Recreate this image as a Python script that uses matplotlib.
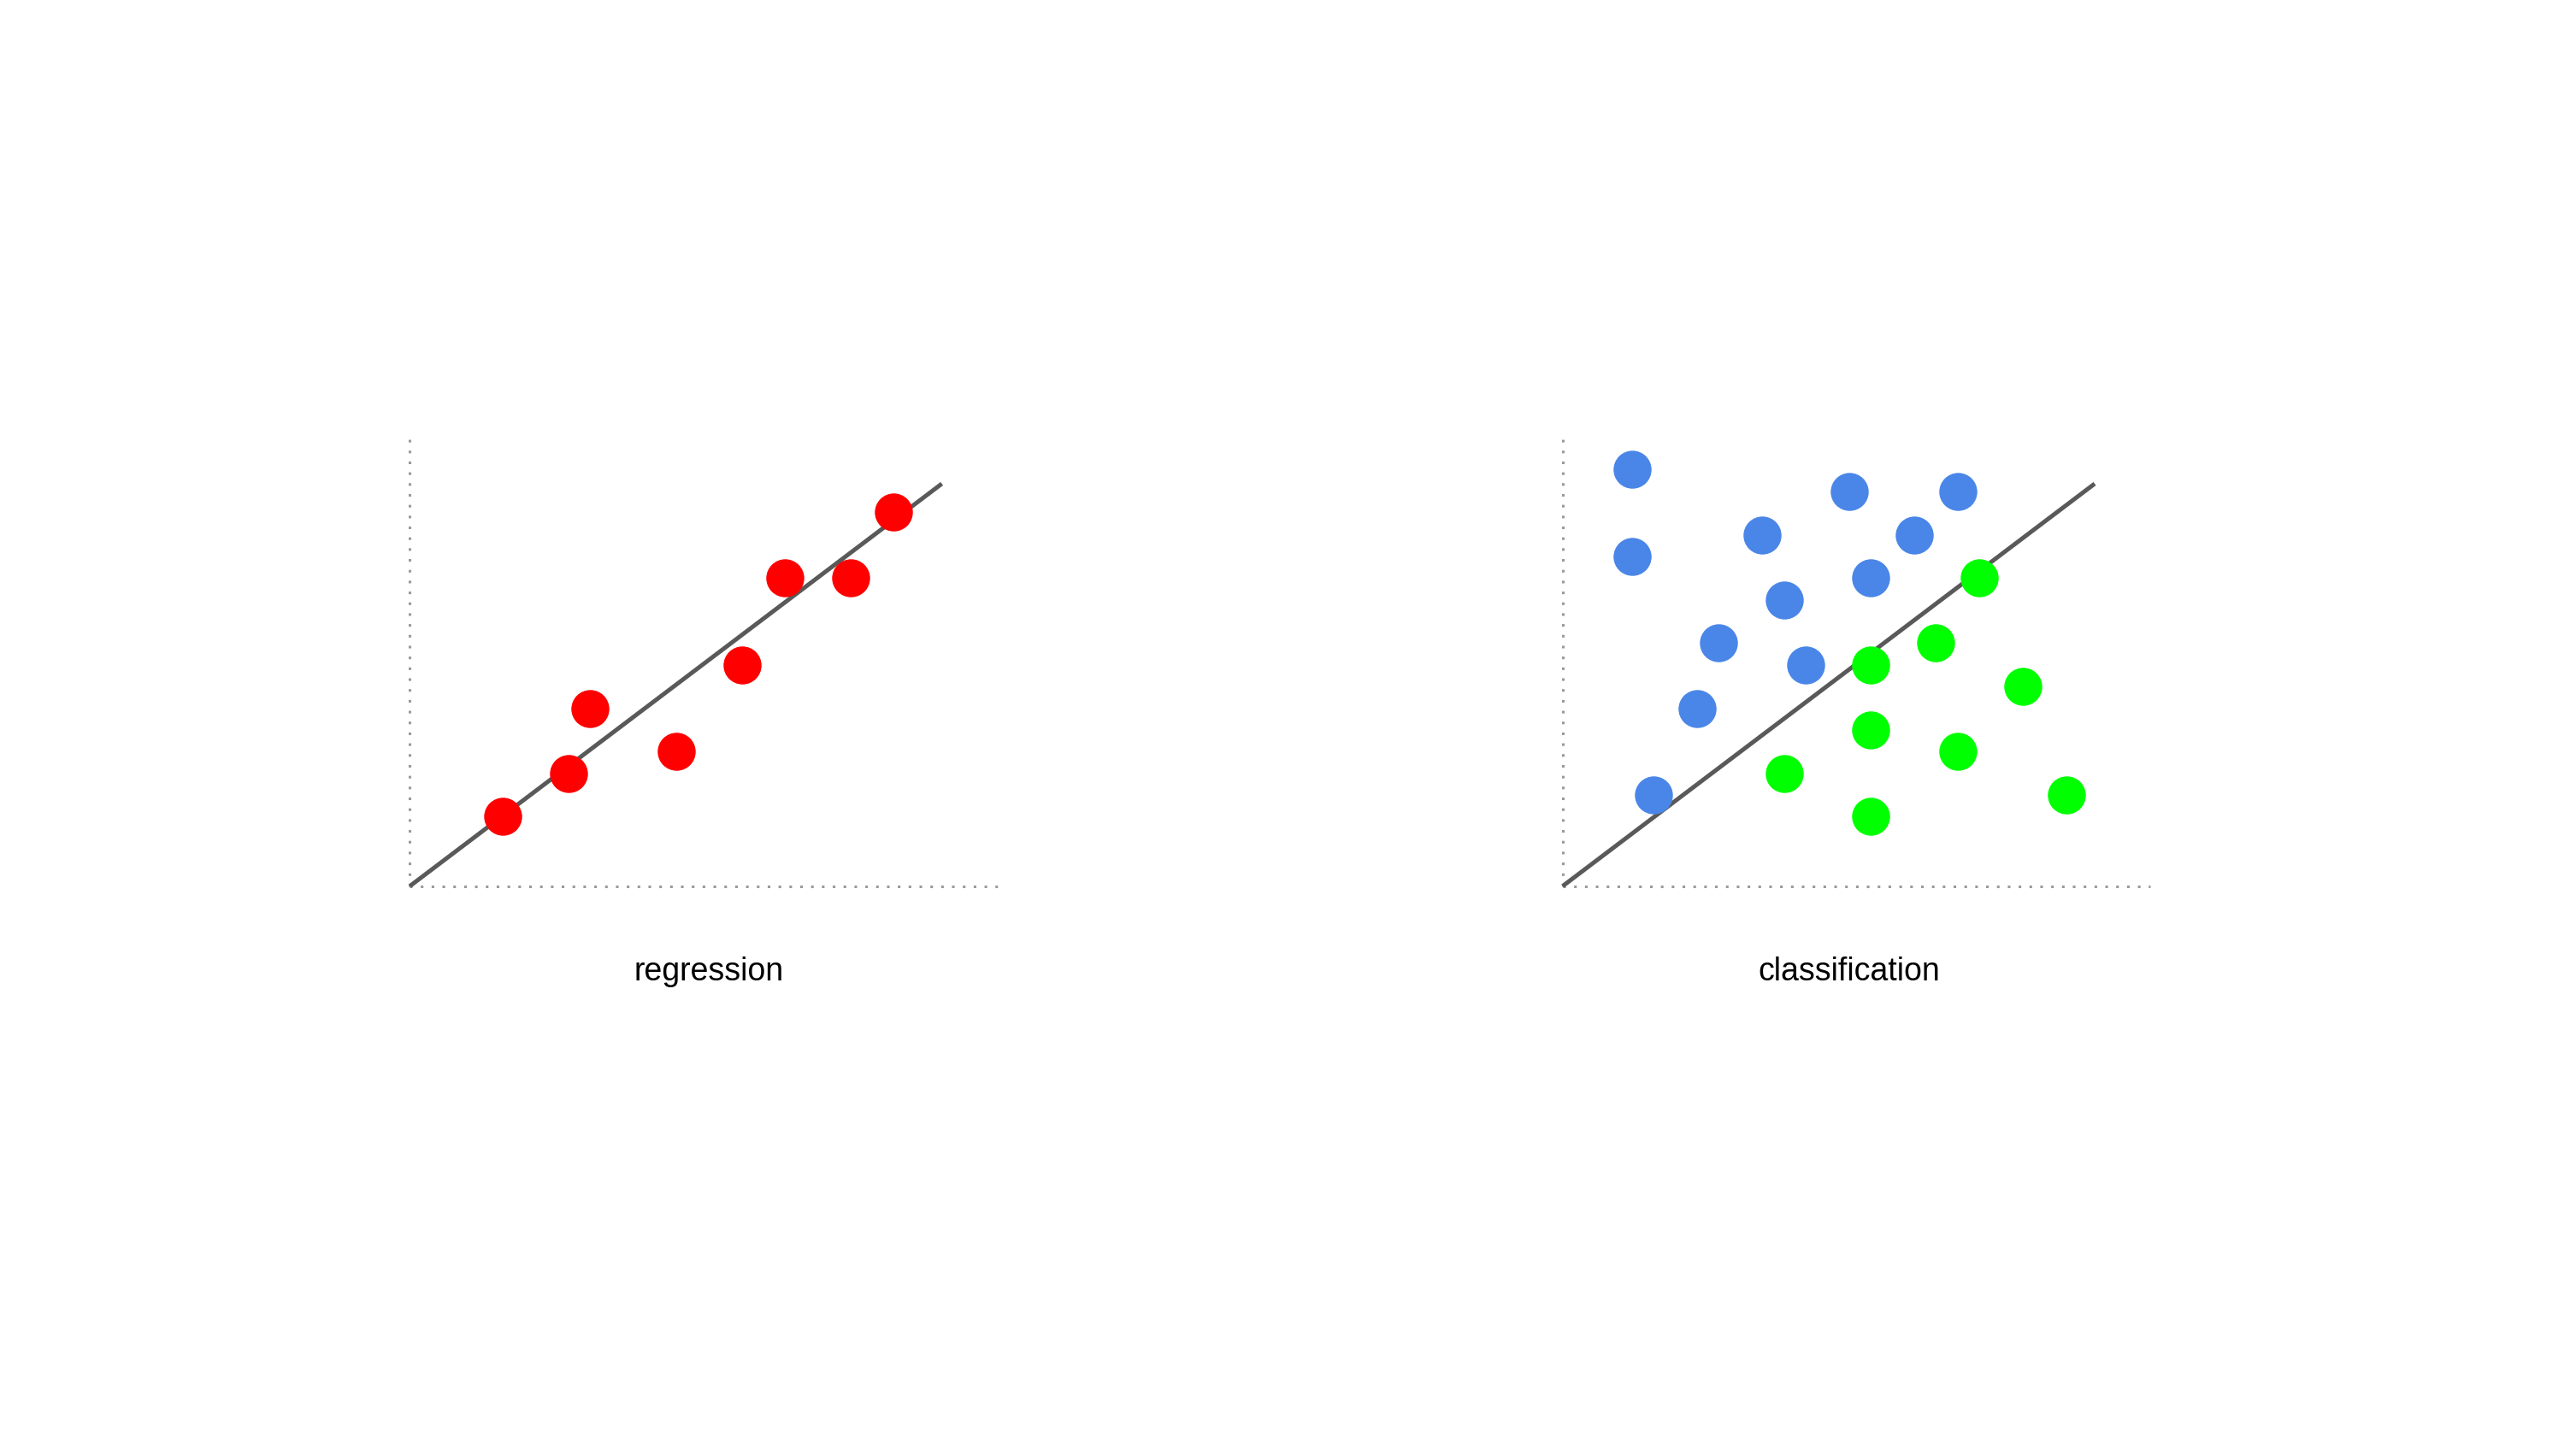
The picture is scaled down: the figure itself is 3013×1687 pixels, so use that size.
import numpy as np
import matplotlib.pyplot as plt

plt.rcParams['font.family'] = ['Liberation Sans', 'DejaVu Sans']

# regression panel (grid units)
reg_x = [4.3, 7.3, 8.3, 12.3, 15.3, 17.3, 20.3, 22.3]
reg_y = [3.2, 5.2, 8.2, 6.2, 10.2, 14.2, 14.2, 17.25]

# classification panel
blue_x = [3.2, 3.2, 9.2, 13.2, 18.2, 16.2, 14.2, 10.2, 7.2, 11.2, 6.2, 4.2]
blue_y = [19.2, 15.2, 16.2, 18.2, 18.2, 16.2, 14.2, 13.2, 11.2, 10.2, 8.2, 4.2]
green_x = [19.2, 17.2, 14.2, 21.2, 14.2, 18.2, 10.2, 14.2, 23.2]
green_y = [14.2, 11.2, 10.2, 9.2, 7.2, 6.2, 5.2, 3.2, 4.2]

# fitted / separating line, same in both panels
line_x = [0, 24.52]
line_y = [0, 18.55]

titles = ['regression', 'classification']

W, H = 3013, 1687
unit = 25.38  # pixels per grid unit
xmax, ymax = 27.1, 20.6

fig = plt.figure(figsize=(W / 100, H / 100), dpi=100)

origins = [479.3, 1827.7]
label_x = [13.77, 13.2]
axs = []
for ox in origins:
    ax = fig.add_axes([ox / W, (H - 1036.7) / H, xmax * unit / W, ymax * unit / H])
    ax.set_xlim(0, xmax)
    ax.set_ylim(0, ymax)
    ax.axis('off')
    # dotted axes
    ax.plot([0, xmax], [0, 0], color='#999999', lw=2.2, ls=(0, (1, 3.15)),
            dash_capstyle='butt', clip_on=False, zorder=1)
    ax.plot([0, 0], [0, ymax], color='#999999', lw=2.2, ls=(0, (1, 3.15)),
            dash_capstyle='butt', clip_on=False, zorder=1)
    ax.plot(line_x, line_y, color='#595959', lw=3.6, solid_capstyle='butt',
            clip_on=False, zorder=2)
    axs.append(ax)

axs[0].plot(reg_x, reg_y, 'o', color='#ff0000', ms=32, mew=0, zorder=3, clip_on=False)
axs[1].plot(blue_x, blue_y, 'o', color='#4a86e8', ms=32, mew=0, zorder=3, clip_on=False)
axs[1].plot(green_x, green_y, 'o', color='#00ff00', ms=32, mew=0, zorder=3, clip_on=False)

for ax, t, lx in zip(axs, titles, label_x):
    ax.text(lx, -4.33, t, ha='center', va='baseline', fontsize=27, color='black',
            clip_on=False)

plt.savefig('out.png', dpi=100, facecolor='white')
